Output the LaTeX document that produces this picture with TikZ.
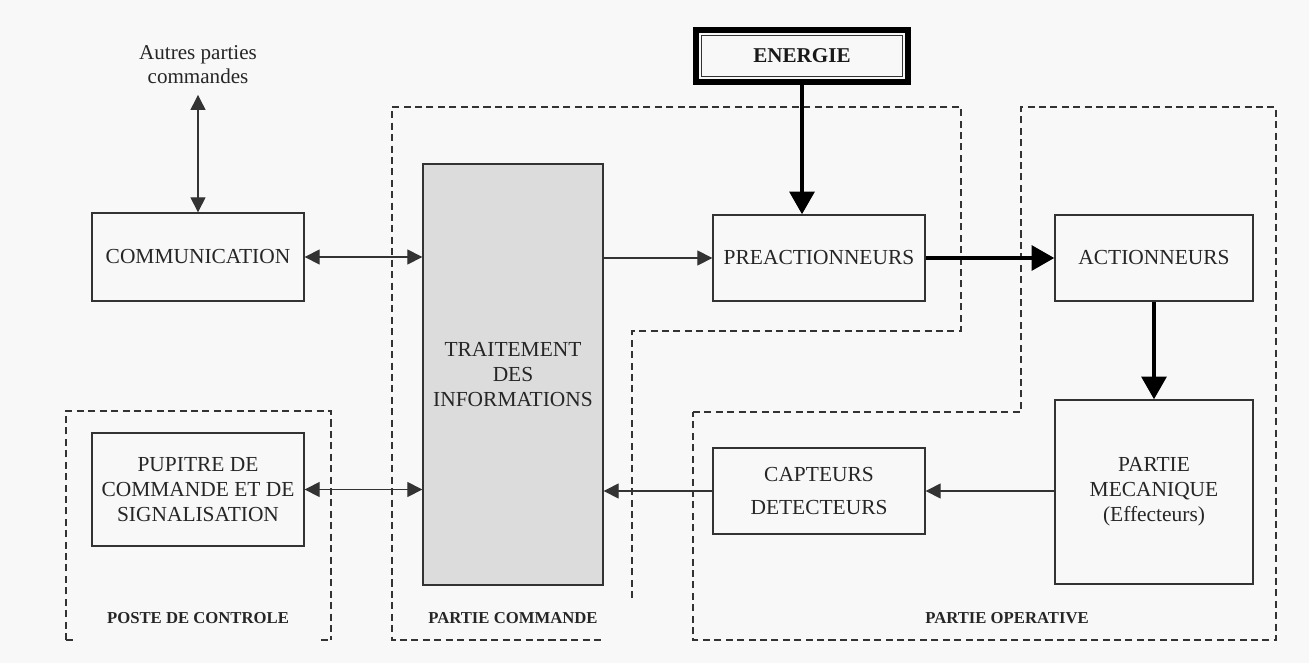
\documentclass[tikz,border=0pt]{standalone}
\usepackage{fontspec}
\setmainfont{Liberation Serif}
\usetikzlibrary{arrows.meta}
\definecolor{fond}{HTML}{F8F8F8}
\definecolor{grisbloc}{HTML}{DCDCDC}

\begin{document}
\begin{tikzpicture}[x=0.02cm,y=-0.02cm,
  bloc/.style={draw=black!80,line width=0.75pt,align=center,inner sep=0pt,
    minimum width=4.24cm,minimum height=1.72cm,text=black!85,
    font=\fontsize{12.2}{14.2}\selectfont},
  fleche/.style={line width=0.6pt,draw=black!80,>={Triangle[length=8.5pt,width=8.5pt]}},
  grosse/.style={line width=2.6pt,-{Triangle[length=13pt,width=14pt]}},
  zone/.style={draw=black!80,line width=0.7pt,dash pattern=on 4pt off 2.5pt},
  titre/.style={font=\fontsize{9.5}{11}\selectfont\bfseries,text=black!85}]
\fill[fond] (0,0) rectangle (1309,663);
\useasboundingbox (0,0) rectangle (1309,663);

% zones en pointilles
\draw[zone] (66,640) -- (66,411) -- (331,411) -- (331,640);
\draw[zone] (66,640) -- (76,640) (321,640) -- (331,640);
\draw[zone] (632,598) -- (632,331) -- (961,331) -- (961,107) -- (392,107) -- (392,640) -- (605,640);
\draw[zone] (693,412) -- (1021,412) -- (1021,107) -- (1276,107) -- (1276,640) -- (693,640) -- cycle;

\node[titre] (poste) at (198,618) {POSTE DE CONTROLE};
\node[titre] (commande) at (513,618) {PARTIE COMMANDE};
\node[titre] (operative) at (1007,618) {PARTIE OPERATIVE};

% blocs
\node[align=center,inner sep=0pt,inner ysep=6pt,text=black!85,font=\fontsize{12}{13.6}\selectfont] (autres) at (198,65) {Autres parties\\commandes};
\node[bloc,minimum height=1.76cm] (communication) at (198,257) {COMMUNICATION};
\node[bloc,minimum height=2.26cm] (pupitre) at (198,489.5) {PUPITRE DE\\COMMANDE ET DE\\SIGNALISATION};
\node[bloc,fill=grisbloc,minimum width=3.6cm,minimum height=8.42cm] (traitement) at (513,374.5) {TRAITEMENT\\DES\\INFORMATIONS};
\node[draw,line width=3pt,minimum width=4.24cm,minimum height=1.04cm,text=black!90,
  font=\fontsize{12}{14}\selectfont\bfseries] (energie) at (802,56) {ENERGIE};
\draw[line width=0.7pt,draw=black!80] ([shift={(8,8)}]energie.north west) rectangle ([shift={(-8,-8)}]energie.south east);
\node[bloc] (preaction) at (819,258) {PREACTIONNEURS};
\node[bloc,minimum width=3.96cm] (actionneurs) at (1154,258) {ACTIONNEURS};
\node[bloc,minimum width=3.96cm,minimum height=3.68cm] (mecanique) at (1154,492) {PARTIE\\MECANIQUE\\(Effecteurs)};
\node[bloc] (capteurs) at (819,491) {CAPTEURS\\[5pt]DETECTEURS};

% liaisons
\draw[fleche,<->] (autres.south) -- (communication.north);
\draw[fleche,<->] (communication.east) -- (communication.east -| traitement.west);
\draw[fleche,<->] (pupitre.east) -- (pupitre.east -| traitement.west);
\draw[fleche,->] (traitement.east |- preaction.west) -- (preaction.west);
\draw[grosse] (energie.south) -- (energie.south |- preaction.north);
\draw[grosse] (preaction.east) -- (actionneurs.west);
\draw[grosse] (actionneurs.south) -- (mecanique.north);
\draw[fleche,->] (mecanique.west |- capteurs.east) -- (capteurs.east);
\draw[fleche,->] (capteurs.west) -- (capteurs.west -| traitement.east);
\end{tikzpicture}
\end{document}
